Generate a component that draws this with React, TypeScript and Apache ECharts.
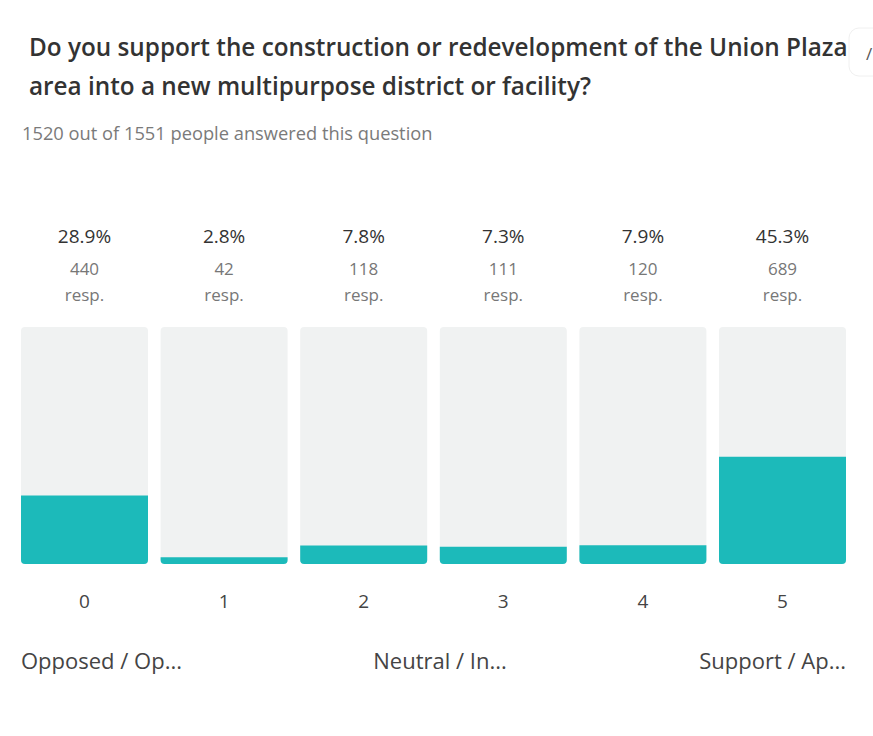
import React, { useEffect, useRef } from "react";
import * as echarts from "echarts";

const categories = ["0", "1", "2", "3", "4", "5"];
const percents = [28.9, 2.8, 7.8, 7.3, 7.9, 45.3];
const counts = [440, 42, 118, 111, 120, 689];
const scaleLabels = ["Opposed / Op...", "Neutral / In...", "Support / Ap..."];
const titleText =
  "Do you support the construction or redevelopment of the Union Plaza\narea into a new multipurpose district or facility?";
const subtitleText = "1520 out of 1551 people answered this question";

const FONT = "'Open Sans', 'Noto Sans', sans-serif";

export default function App() {
  const ref = useRef<HTMLDivElement>(null);
  useEffect(() => {
    if (!ref.current) return;
    const chart = echarts.init(ref.current, undefined, { renderer: "svg" });
    const topLabels = categories.map(
      (_, i) => `{p|${percents[i].toFixed(1)}%}\n{c|${counts[i]}}\n{r|resp.}`
    );
    chart.setOption({
      animation: false,
      backgroundColor: "#ffffff",
      title: [
        {
          text: titleText,
          left: 29,
          top: 27,
          padding: 0,
          textStyle: {
            fontFamily: FONT,
            fontSize: 24.3,
            fontWeight: 600,
            color: "#333333",
            lineHeight: 39,
          },
        },
        {
          text: subtitleText,
          left: 22,
          top: 122,
          padding: 0,
          textStyle: {
            fontFamily: FONT,
            fontSize: 18.3,
            fontWeight: "normal",
            color: "#7a7a7a",
            lineHeight: 20,
          },
        },
      ],
      grid: { left: 14.7, right: 20.7, top: 327, bottom: 172, containLabel: false },
      xAxis: [
        {
          type: "category",
          data: categories,
          position: "bottom",
          axisLine: { show: false },
          axisTick: { show: false },
          axisLabel: {
            margin: 27,
            fontFamily: FONT,
            fontSize: 19,
            color: "#444444",
            lineHeight: 20,
            verticalAlign: "top",
          },
        },
        {
          type: "category",
          data: topLabels,
          position: "top",
          axisLine: { show: false },
          axisTick: { show: false },
          axisLabel: {
            margin: 20,
            interval: 0,
            rich: {
              p: { fontFamily: FONT, fontSize: 19, color: "#333333", lineHeight: 38 },
              c: { fontFamily: FONT, fontSize: 17, color: "#777777", lineHeight: 26 },
              r: { fontFamily: FONT, fontSize: 17, color: "#777777", lineHeight: 26 },
            },
          },
        },
      ],
      yAxis: {
        type: "value",
        min: 0,
        max: 100,
        show: false,
        splitLine: { show: false },
      },
      series: [
        {
          type: "bar",
          data: categories.map(() => 100),
          barWidth: 127,
          barGap: "-100%",
          itemStyle: { color: "#f0f2f2", borderRadius: 4 },
          silent: true,
          z: 1,
        },
        {
          type: "bar",
          data: percents,
          barWidth: 127,
          barGap: "-100%",
          itemStyle: { color: "#1cbaba", borderRadius: [0, 0, 4, 4] },
          z: 2,
        },
      ],
      graphic: [
        {
          type: "text",
          x: 21,
          y: 660,
          style: {
            text: scaleLabels[0],
            font: `22px ${FONT}`,
            fill: "#444444",
            textAlign: "left",
            textVerticalAlign: "middle",
          },
        },
        {
          type: "text",
          x: 440,
          y: 660,
          style: {
            text: scaleLabels[1],
            font: `22px ${FONT}`,
            fill: "#444444",
            textAlign: "center",
            textVerticalAlign: "middle",
          },
        },
        {
          type: "text",
          x: 846,
          y: 660,
          style: {
            text: scaleLabels[2],
            font: `22px ${FONT}`,
            fill: "#444444",
            textAlign: "right",
            textVerticalAlign: "middle",
          },
        },
        {
          type: "rect",
          shape: { x: 849, y: 28, width: 40, height: 48, r: 10 },
          style: { fill: "#ffffff", stroke: "#f0f0f0", lineWidth: 1 },
        },
        {
          type: "text",
          x: 866,
          y: 53,
          style: {
            text: "/",
            font: `17px ${FONT}`,
            fill: "#555555",
            textVerticalAlign: "middle",
          },
        },
      ],
    });
    return () => chart.dispose();
  }, []);
  return (
    <div
      ref={ref}
      style={{ position: "fixed", left: 0, top: 0, width: 873, height: 736, background: "#fff" }}
    />
  );
}
